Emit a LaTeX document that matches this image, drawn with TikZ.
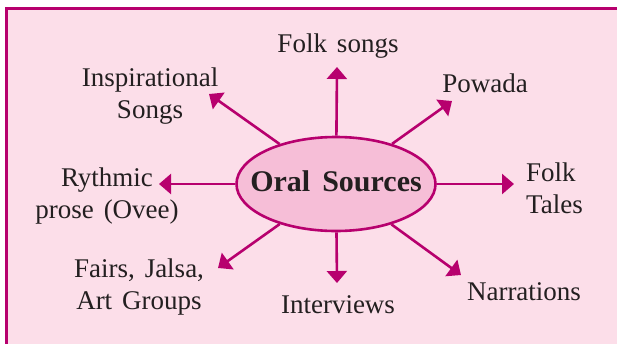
\documentclass[tikz,border=0pt]{standalone}
\usepackage{fontspec}
\setmainfont{Liberation Serif}
\usetikzlibrary{arrows.meta,shapes.geometric}
\definecolor{oralmag}{RGB}{183,0,110}
\definecolor{oralbg}{RGB}{252,222,233}
\definecolor{oralfill}{RGB}{246,190,215}
\definecolor{oraltext}{RGB}{35,31,32}
\begin{document}
\begin{tikzpicture}[x=1pt,y=-1pt,
  lbl/.style={text=oraltext,font=\fontsize{27}{31.5}\selectfont,
    execute at begin node={\spaceskip=10pt plus 2pt\relax},
    align=center,anchor=base,inner sep=0pt},
  spoke/.style={oralmag,line width=2.6pt,-{Triangle[length=12pt,width=20pt]}}]
\useasboundingbox (0,0) rectangle (617,343);
\clip (0,0) rectangle (617,343);
\fill[white] (0,0) rectangle (617,343);
\draw[oralmag,line width=3pt,fill=oralbg] (6.5,8) rectangle (640,370);
% centre
\node[ellipse,draw=oralmag,line width=2.6pt,fill=oralfill,minimum width=199pt,minimum height=94pt,
  inner sep=0pt,text height=0pt,text depth=0pt,text=oraltext,font=\bfseries\fontsize{30}{36}\selectfont,
  execute at begin node={\spaceskip=12pt\relax}]
  (oral) at (336,184) {\raisebox{-7pt}{\makebox[0pt]{Oral Sources}}};
% labels
\node[lbl] (folk) at (338,52) {Folk songs};
\node[lbl] (insp) at (150,118) {Inspirational\\Songs};
\node[lbl] (powada) at (485,92) {Powada};
\node[lbl] (rythmic) at (107,218) {Rythmic\\prose (Ovee)};
\node[lbl,align=left,anchor=base west] (tales) at (526,213) {Folk\\Tales};
\node[lbl] (fairs) at (139,309) {Fairs, Jalsa,\\Art Groups};
\node[lbl] (interv) at (338,313) {Interviews};
\node[lbl] (narr) at (524,300) {Narrations};
% arrow tips
\coordinate (tipN) at (337,67);
\coordinate (tipS) at (337,283);
\coordinate (tipW) at (159,184);
\coordinate (tipE) at (514,184);
\coordinate (tipNW) at (209,94);
\coordinate (tipNE) at (452,101);
\coordinate (tipSW) at (218,268);
\coordinate (tipSE) at (461,275);
\draw[spoke] (oral) -- (tipN);
\draw[spoke] (oral) -- (tipS);
\draw[spoke] (oral) -- (tipW);
\draw[spoke] (oral) -- (tipE);
\draw[spoke] (oral) -- (tipNW);
\draw[spoke] (oral) -- (tipNE);
\draw[spoke] (oral) -- (tipSW);
\draw[spoke] (oral) -- (tipSE);
\end{tikzpicture}
\end{document}
